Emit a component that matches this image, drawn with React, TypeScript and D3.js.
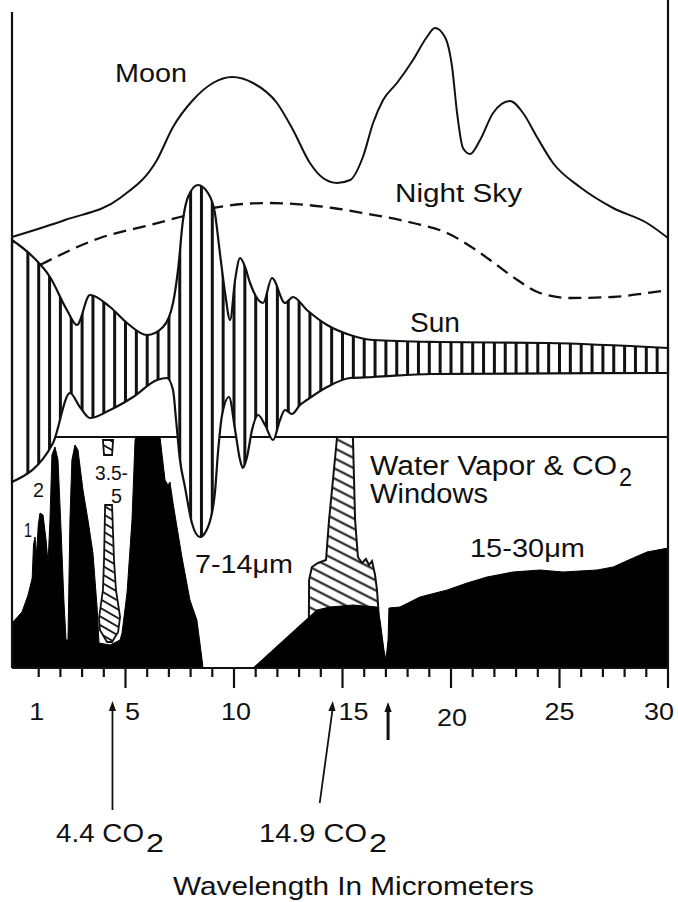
import React from "react";
import * as d3 from "d3";

type P = [number, number];

// wavelength (micrometers), relative intensity (arbitrary units)
const moon: P[] = [
  [-0.23, 86.2], [2.21, 89.6], [4.75, 94], [6.45, 101.6], [7.19, 108.2], [8.11, 113.6],
  [9.03, 117], [9.91, 118.2], [10.88, 117], [11.98, 113], [12.72, 107.6], [13.5, 101],
  [14.1, 98], [14.75, 97], [15.35, 97.6], [15.94, 102.2], [16.41, 109], [16.87, 113.6],
  [17.51, 117], [18.25, 121.6], [18.89, 126.2], [19.26, 128], [19.72, 126.2], [20.05, 120.2],
  [20.28, 111], [20.55, 104], [20.88, 102.8], [21.34, 105.6], [21.94, 111], [22.72, 113.4],
  [23.32, 111], [23.96, 106.2], [24.7, 101], [25.94, 96.2], [27.47, 92], [29.03, 89], [30, 86],
];

const nightSky: P[] = [
  [1.06, 80.6], [3.82, 86], [6.13, 88.6], [7.51, 90.2], [9.03, 92], [11.52, 93], [14.56, 92],
  [15.94, 91], [18.25, 89], [19.82, 87], [21.01, 84], [21.8, 81.6], [22.86, 78.2], [24.1, 75],
  [25.48, 74], [27.47, 74.2], [29.03, 75], [30, 75.6],
];

const sunUpper: P[] = [
  [-0.23, 85.6], [0.74, 82.2], [1.52, 78.2], [2.3, 71.6], [2.76, 68.6], [3.36, 74.6],
  [4.29, 72.2], [5.07, 69], [5.99, 66.6], [6.73, 68.2], [7.19, 73], [7.42, 79.6], [7.65, 89.6],
  [7.88, 94.2], [8.34, 96.6], [8.8, 95], [9.12, 91], [9.35, 83], [9.59, 75], [9.82, 69.6],
  [10.05, 77.6], [10.28, 82], [10.51, 80.2], [10.74, 77], [11.34, 73], [11.75, 78], [12.35, 73],
  [12.72, 74.2], [13.36, 71.6], [14.29, 68.6], [15.35, 66.6], [16.41, 65.6], [19.49, 65.2],
  [24.42, 65], [30, 64],
];

const sunLower: P[] = [
  [-0.23, 37.2], [1.66, 45], [2.44, 55], [2.9, 52.2], [3.36, 50], [4.29, 51.6], [5.35, 54.2],
  [6.45, 57.6], [6.91, 58], [7.19, 55.6], [7.33, 49.6], [7.51, 41.6], [7.74, 36.2], [8.06, 29],
  [8.43, 26.2], [8.8, 28.2], [9.12, 35], [9.26, 43], [9.45, 50.6], [9.77, 54.2], [10.05, 47.6],
  [10.28, 41.6], [10.41, 40], [10.6, 42.2], [10.83, 47.6], [11.11, 50.6], [11.43, 48.6],
  [11.8, 45.6], [12.12, 49.6], [12.35, 51.6], [12.67, 50.8], [13.04, 52.6], [13.36, 53.6],
  [14.29, 56.2], [15.35, 58], [16.41, 58.2], [19.12, 58.8], [30, 59],
];

// atmospheric absorption (black) profile
const absorption: P[] = [
  [-0.23, 0], [-0.23, 9], [0.23, 11.2], [0.51, 14.6], [0.7, 18], [0.76, 24.6], [0.83, 26.2],
  [0.9, 22.6], [0.98, 28.6], [1.06, 31], [1.2, 30.6], [1.34, 25.6], [1.43, 21], [1.52, 29.6],
  [1.61, 42.6], [1.75, 44.2], [1.89, 41.6], [2.03, 27.6], [2.16, 13.6], [2.26, 5.6], [2.35, 5.6],
  [2.44, 29.6], [2.53, 41.6], [2.67, 44.6], [2.81, 43.6], [3.04, 35.6], [3.27, 29.6], [3.5, 23],
  [3.69, 12.2], [3.78, 5], [4.29, 4.6], [4.75, 5.6], [4.84, 7], [5.07, 15], [5.3, 29.6],
  [5.44, 45.6], [5.48, 46.2], [6.59, 46.2], [6.82, 37.6], [6.96, 36.6], [7.05, 37.2], [7.19, 33],
  [7.6, 22.2], [7.97, 13.6], [8.29, 9.6], [8.53, 1.6], [8.57, 0], [10.88, 0], [13.41, 10],
  [13.82, 11.6], [14.42, 12.2], [15.48, 12.6], [16.59, 12.2], [16.73, 9.6], [16.91, 3.6],
  [17.0, 1.6], [17.1, 5.6], [17.14, 12], [17.65, 12.2], [18.57, 14.2], [19.82, 15.6],
  [20.74, 17], [21.66, 18.2], [22.86, 19.2], [24.1, 19.6], [25.16, 19.2], [26.73, 19.6],
  [27.47, 20.2], [28.39, 22], [29.03, 23.2], [30, 24], [30, 0],
];

// CO2 bands (hatched)
const co2Band44: P[] = [
  [4.06, 32.6], [4.38, 32.6], [4.47, 21.6], [4.56, 15.6], [4.75, 10.2], [4.66, 7.2], [4.38, 5.2],
  [4.15, 5.2], [3.82, 7.6], [3.78, 10], [3.96, 15.6], [4.01, 21.6],
];
const co2Band35: P[] = [[3.96, 45.6], [4.43, 45.6], [4.38, 42.6], [4.01, 42.6]];
const co2Band149: P[] = [
  [14.75, 46.2], [15.48, 46.2], [15.58, 29.6], [15.71, 22.2], [15.9, 21], [16.08, 21.8],
  [16.22, 20.6], [16.36, 21.4], [16.5, 18.6], [16.59, 15.6], [16.68, 10], [13.45, 9],
  [13.46, 17.6], [13.59, 20.2], [13.87, 21], [14.24, 21.6], [14.38, 29.6], [14.56, 37.6],
];

const windowLevel = 46.2;
const hatchStep = 0.5;
const tickValues = [1, 5, 10, 15, 20, 25, 30];
const tickLabels = ["1", "5", "10", "15", "20", "25", "30"];
const minorTicks = d3.range(1, 31);
const co2Arrows = [
  { label: "4.4 CO", head: 4.4, tail: 4.4 },
  { label: "14.9 CO", head: 14.55, tail: 13.95 },
];
const notchArrow = 17.1;

export default function App() {
  const W = 678, H = 902;
  const x = d3.scaleLinear().domain([0, 30]).range([17, 668]);
  const y = d3.scaleLinear().domain([0, 100]).range([668, 168]);

  const smooth = d3.line<P>().x((d) => x(d[0])).y((d) => y(d[1])).curve(d3.curveMonotoneX);
  const closed = d3.line<P>().x((d) => x(d[0])).y((d) => y(d[1])).curve(d3.curveLinearClosed);
  const straight = d3.line<P>().x((d) => x(d[0])).y((d) => y(d[1]));

  const upperD = smooth(sunUpper) as string;
  const lowerD = smooth([...sunLower].reverse()) as string;
  const sunD = upperD + "L" + lowerD.slice(1) + "Z";

  const frameLeft = x(-0.23);
  const frameRight = x(30);
  const frameTop = y(131.2);
  const base = y(0);
  const font = "'Liberation Sans', Arial, Helvetica, sans-serif";

  const labelDx: Record<number, number> = { 1: -2, 5: 7, 10: 2, 15: 11, 20: 1, 25: 0, 30: -9 };
  const labelDy: Record<number, number> = { 20: 6 };

  const hatchXs = d3.range(hatchStep, 30, hatchStep);

  const arrowHead = (cx: number, tip: number, dirx = 0) => {
    const h = 10, w = 3.6;
    return `M${cx},${tip} L${cx - w + dirx},${tip + h} L${cx + w + dirx},${tip + h} Z`;
  };

  const lab = { lengthAdjust: "spacingAndGlyphs" } as any;

  return (
    <svg width={W} height={H} style={{ position: "absolute", left: 0, top: 0, background: "#fff" }} fontFamily={font}>
      <defs>
        <clipPath id="sunClip">
          <path d={sunD} />
        </clipPath>
        <pattern id="diag" patternUnits="userSpaceOnUse" width={9} height={9} patternTransform="rotate(27)">
          <line x1={0} y1={4.5} x2={9} y2={4.5} stroke="#111" strokeWidth={2} />
        </pattern>
        <pattern id="diag2" patternUnits="userSpaceOnUse" width={7.5} height={7.5} patternTransform="rotate(30)">
          <line x1={0} y1={3.75} x2={7.5} y2={3.75} stroke="#111" strokeWidth={1.8} />
        </pattern>
      </defs>

      {/* Moon */}
      <path d={smooth(moon) as string} fill="none" stroke="#111" strokeWidth={2} />
      {/* Night sky */}
      <path d={smooth(nightSky) as string} fill="none" stroke="#111" strokeWidth={2.3} strokeDasharray="13 7" />

      {/* windows box top */}
      <line x1={x(1.66)} x2={frameRight} y1={y(windowLevel)} y2={y(windowLevel)} stroke="#111" strokeWidth={2} />

      {/* CO2 hatched bands */}
      {[co2Band44, co2Band35].map((b, i) => (
        <path key={"b" + i} d={closed(b) as string} fill="url(#diag2)" stroke="#111" strokeWidth={1.8} />
      ))}
      <path d={closed(co2Band149) as string} fill="url(#diag)" stroke="#111" strokeWidth={2} />

      {/* absorption */}
      <path d={straight(absorption) as string} fill="#000" stroke="#000" strokeWidth={1} />

      {/* Sun */}
      <path d={sunD} fill="#fff" />
      <g clipPath="url(#sunClip)">
        {hatchXs.map((v) => (
          <line key={v} x1={x(v)} x2={x(v)} y1={frameTop} y2={base} stroke="#111" strokeWidth={3} />
        ))}
      </g>
      <path d={sunD} fill="none" stroke="#111" strokeWidth={2.2} />

      {/* frame */}
      <line x1={frameLeft} x2={frameLeft} y1={frameTop} y2={base} stroke="#111" strokeWidth={2.2} />
      <line x1={frameRight} x2={frameRight} y1={0} y2={base} stroke="#111" strokeWidth={2.2} />
      <line x1={frameLeft} x2={frameRight} y1={base} y2={base} stroke="#111" strokeWidth={2.2} />

      {/* ticks */}
      {minorTicks.map((t) => (
        <line key={"t" + t} x1={x(t)} x2={x(t)} y1={base} y2={base + (t % 5 === 0 ? 20 : 9)} stroke="#111" strokeWidth={2.2} />
      ))}
      {tickValues.map((t, i) => (
        <text key={"l" + t} x={x(t) + (labelDx[t] || 0)} y={720 + (labelDy[t] || 0)} fontSize={24}
          textAnchor="middle" fill="#111" textLength={15 * tickLabels[i].length} {...lab}>
          {tickLabels[i]}
        </text>
      ))}

      {/* arrows */}
      {co2Arrows.map((a) => (
        <g key={a.label}>
          <line x1={x(a.tail)} y1={a.head === a.tail ? 810 : 803} x2={x(a.head)} y2={708} stroke="#111" strokeWidth={1.8} />
          <path d={arrowHead(x(a.head), 701, a.head === a.tail ? 0 : -0.8)} fill="#111" />
        </g>
      ))}
      <line x1={x(notchArrow)} x2={x(notchArrow)} y1={740} y2={710} stroke="#111" strokeWidth={3} />
      <path d={arrowHead(x(notchArrow), 702)} fill="#111" />

      {/* texts */}
      <g fill="#111">
        <text x={115} y={82} fontSize={26} textLength={72} {...lab}>Moon</text>
        <text x={395} y={202} fontSize={26} textLength={127} {...lab}>Night Sky</text>
        <text x={410} y={332} fontSize={27} textLength={50} {...lab}>Sun</text>
        <text x={370} y={475} fontSize={27} textLength={247} {...lab}>Water Vapor &amp; CO</text>
        <text x={619} y={486} fontSize={25} textLength={13} {...lab}>2</text>
        <text x={370} y={503} fontSize={27} textLength={118} {...lab}>Windows</text>
        <text x={470} y={557} fontSize={26} textLength={115} {...lab}>15-30μm</text>
        <text x={195} y={573} fontSize={25} textLength={98} {...lab}>7-14μm</text>
        <text x={33} y={497} fontSize={21} textLength={11} {...lab}>2</text>
        <text x={24} y={537} fontSize={21} textLength={8} {...lab}>1</text>
        <text x={95} y={480} fontSize={20} textLength={33} {...lab}>3.5-</text>
        <text x={111} y={503} fontSize={20} textLength={11} {...lab}>5</text>
        <text x={56} y={842} fontSize={26} textLength={88} {...lab}>{co2Arrows[0].label}</text>
        <text x={146} y={852} fontSize={25} textLength={18} {...lab}>2</text>
        <text x={259} y={842} fontSize={26} textLength={108} {...lab}>{co2Arrows[1].label}</text>
        <text x={369} y={852} fontSize={25} textLength={18} {...lab}>2</text>
        <text x={173} y={895} fontSize={25} textLength={361} {...lab}>Wavelength In Micrometers</text>
      </g>
    </svg>
  );
}
